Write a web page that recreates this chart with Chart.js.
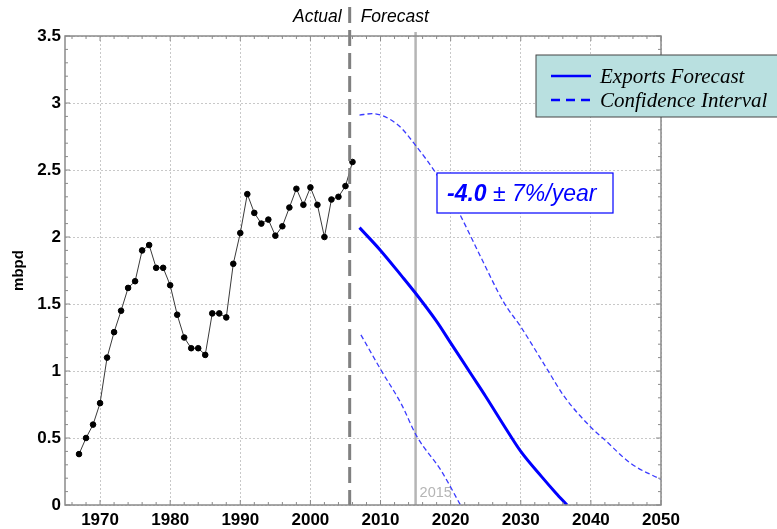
<!DOCTYPE html>
<html>
<head>
<meta charset="utf-8">
<script src="https://cdn.jsdelivr.net/npm/chart.js@4/dist/chart.umd.min.js"></script>
<style>
  html, body { margin: 0; padding: 0; background: #fff; }
  #wrap { width: 777px; height: 529px; position: relative; }
</style>
</head>
<body>
<div id="wrap"><canvas id="c"></canvas></div>
<script>
// actual exports (mbpd), 1967-2006
const actualYears = [1967, 1968, 1969, 1970, 1971, 1972, 1973, 1974, 1975, 1976, 1977, 1978, 1979, 1980,
  1981, 1982, 1983, 1984, 1985, 1986, 1987, 1988, 1989, 1990, 1991, 1992, 1993, 1994, 1995, 1996,
  1997, 1998, 1999, 2000, 2001, 2002, 2003, 2004, 2005, 2006];
const actualValues = [0.38, 0.50, 0.60, 0.76, 1.10, 1.29, 1.45, 1.62, 1.67, 1.90, 1.94, 1.77, 1.77, 1.64,
  1.42, 1.25, 1.17, 1.17, 1.12, 1.43, 1.43, 1.40, 1.80, 2.03, 2.32, 2.18, 2.10, 2.13, 2.01, 2.08,
  2.22, 2.36, 2.24, 2.37, 2.24, 2.00, 2.28, 2.30, 2.38, 2.56];

// forecast and confidence band
const forecastYears = [2007, 2010, 2013, 2015, 2018, 2020, 2023, 2025, 2028, 2030, 2033, 2035, 2036.6];
const forecastValues = [2.07, 1.90, 1.71, 1.58, 1.37, 1.21, 0.97, 0.81, 0.56, 0.40, 0.21, 0.09, 0];
const upperYears = [2007, 2008.8, 2012.4, 2015.2, 2018.1, 2021, 2024.3, 2027.6, 2030, 2033.8, 2036.2, 2040, 2041.9, 2045.7, 2050];
const upperValues = [2.91, 2.92, 2.84, 2.67, 2.46, 2.20, 1.85, 1.51, 1.33, 1.01, 0.81, 0.58, 0.49, 0.31, 0.19];
const lowerYears = [2007.2, 2010.2, 2012.9, 2015.2, 2018.6, 2021.4];
const lowerValues = [1.27, 0.995, 0.76, 0.51, 0.26, 0];

const xTicks = [1970, 1980, 1990, 2000, 2010, 2020, 2030, 2040, 2050];
const yTicks = [0, 0.5, 1, 1.5, 2, 2.5, 3, 3.5];
const splitYear = 2005.6;
const markerYear = 2015;
const legendLabels = ["Exports Forecast", "Confidence Interval"];

const pts = (xs, ys) => xs.map((x, i) => ({ x, y: ys[i] }));

const BLUE = "#0000ff";
const CI_BLUE = "#3b3bff";
const SANS = "'Liberation Sans', Arial, sans-serif";

// frame, minor ticks, reference lines, legend and annotation
const decor = {
  id: "decor",
  beforeDatasetsDraw(chart) {
    const { ctx, chartArea: a, scales: { x } } = chart;
    ctx.save();
    // 2015 marker
    const mx = x.getPixelForValue(markerYear);
    ctx.strokeStyle = "#b5b5b5";
    ctx.lineWidth = 2.5;
    ctx.beginPath();
    ctx.moveTo(mx, a.top - 4);
    ctx.lineTo(mx, a.bottom);
    ctx.stroke();
    ctx.fillStyle = "#b5b5b5";
    ctx.font = "14.5px " + SANS;
    ctx.textAlign = "left";
    ctx.textBaseline = "middle";
    ctx.fillText(String(markerYear), mx + 4, a.bottom - 12);
    ctx.restore();
  },
  afterDatasetsDraw(chart) {
    const { ctx, chartArea: a, scales: { x, y } } = chart;
    ctx.save();
    // frame
    ctx.strokeStyle = "#8a8a8a";
    ctx.lineWidth = 1.5;
    ctx.strokeRect(a.left, a.top, a.right - a.left, a.bottom - a.top);
    // minor ticks (inward) on all four sides
    ctx.lineWidth = 1;
    ctx.beginPath();
    for (let yr = 1966; yr <= 2050; yr += 2) {
      const px = x.getPixelForValue(yr);
      const len = yr % 10 === 0 ? 5 : 3;
      ctx.moveTo(px, a.bottom); ctx.lineTo(px, a.bottom - len);
      ctx.moveTo(px, a.top); ctx.lineTo(px, a.top + len);
    }
    for (let k = 0; k <= 35; k++) {
      const py = y.getPixelForValue(k / 10);
      const len = k % 5 === 0 ? 5 : 3;
      ctx.moveTo(a.left, py); ctx.lineTo(a.left + len, py);
      ctx.moveTo(a.right, py); ctx.lineTo(a.right - len, py);
    }
    ctx.stroke();

    // actual / forecast divider
    const sx = x.getPixelForValue(splitYear);
    ctx.strokeStyle = "#808080";
    ctx.lineWidth = 3;
    ctx.setLineDash([16, 7]);
    ctx.beginPath();
    ctx.moveTo(sx, 7);
    ctx.lineTo(sx, a.bottom);
    ctx.stroke();
    ctx.setLineDash([]);

    ctx.fillStyle = "#000";
    ctx.font = "italic 17.5px " + SANS;
    ctx.textBaseline = "middle";
    ctx.textAlign = "right";
    ctx.fillText("Actual", sx - 8, 17);
    ctx.textAlign = "left";
    ctx.fillText("Forecast", sx + 11, 17);

    // rate annotation
    const bx = 437, by = 173, bw = 176, bh = 40;
    ctx.fillStyle = "#fff";
    ctx.fillRect(bx, by, bw, bh);
    ctx.strokeStyle = BLUE;
    ctx.lineWidth = 1.2;
    ctx.strokeRect(bx, by, bw, bh);
    ctx.fillStyle = BLUE;
    ctx.textBaseline = "middle";
    ctx.textAlign = "left";
    ctx.font = "italic bold 23px " + SANS;
    const t1 = "-4.0";
    ctx.fillText(t1, bx + 10, by + bh / 2 + 2);
    const w1 = ctx.measureText(t1).width;
    ctx.font = "italic 23px " + SANS;
    ctx.fillText(" \u00b1 7%/year", bx + 10 + w1, by + bh / 2 + 2);

    // legend
    const lx = 536, ly = 55, lw = 250, lh = 62;
    ctx.fillStyle = "#b9e0e0";
    ctx.fillRect(lx, ly, lw, lh);
    ctx.strokeStyle = "#444";
    ctx.lineWidth = 1;
    ctx.strokeRect(lx, ly, lw, lh);
    const rows = [ly + 21, ly + 45];
    ctx.strokeStyle = BLUE;
    ctx.lineWidth = 2.5;
    ctx.beginPath();
    ctx.moveTo(lx + 15, rows[0]); ctx.lineTo(lx + 55, rows[0]);
    ctx.stroke();
    ctx.setLineDash([9, 6]);
    ctx.beginPath();
    ctx.moveTo(lx + 15, rows[1]); ctx.lineTo(lx + 58, rows[1]);
    ctx.stroke();
    ctx.setLineDash([]);
    ctx.fillStyle = "#000";
    ctx.font = "italic 21px 'Liberation Serif', 'Times New Roman', serif";
    ctx.textAlign = "left";
    ctx.fillText(legendLabels[0], lx + 64, rows[0] + 1);
    ctx.fillText(legendLabels[1], lx + 64, rows[1] + 1);
    ctx.restore();
  }
};

new Chart(document.getElementById("c"), {
  type: "scatter",
  data: {
    datasets: [
      {
        label: "Actual",
        data: pts(actualYears, actualValues),
        showLine: true,
        borderColor: "#3a3a3a",
        borderWidth: 1,
        pointBackgroundColor: "#000",
        pointBorderColor: "#000",
        pointRadius: 2.8,
        tension: 0
      },
      {
        label: legendLabels[0],
        data: pts(forecastYears, forecastValues),
        showLine: true,
        borderColor: BLUE,
        borderWidth: 3,
        pointRadius: 0,
        cubicInterpolationMode: "monotone"
      },
      {
        label: legendLabels[1],
        data: pts(upperYears, upperValues),
        showLine: true,
        borderColor: CI_BLUE,
        borderWidth: 1.3,
        borderDash: [5, 3],
        pointRadius: 0,
        cubicInterpolationMode: "monotone"
      },
      {
        label: legendLabels[1] + " (low)",
        data: pts(lowerYears, lowerValues),
        showLine: true,
        borderColor: CI_BLUE,
        borderWidth: 1.3,
        borderDash: [5, 3],
        pointRadius: 0,
        cubicInterpolationMode: "monotone"
      }
    ]
  },
  options: {
    responsive: true,
    maintainAspectRatio: false,
    animation: false,
    layout: { padding: { top: 36, right: 116, left: 0, bottom: 0 } },
    plugins: { legend: { display: false }, tooltip: { enabled: false } },
    scales: {
      x: {
        type: "linear",
        min: 1965,
        max: 2050,
        afterBuildTicks: (s) => { s.ticks = xTicks.map((v) => ({ value: v })); },
        afterFit: (s) => { s.height = 24; },
        grid: { color: "#c8c8c8", lineWidth: 1, drawTicks: false },
        border: { display: false, dash: [2, 2] },
        ticks: {
          color: "#000",
          padding: 5,
          maxRotation: 0,
          font: { family: SANS, size: 17, weight: "bold" },
          callback: (v) => String(v)
        }
      },
      y: {
        min: 0,
        max: 3.5,
        afterBuildTicks: (s) => { s.ticks = yTicks.map((v) => ({ value: v })); },
        afterFit: (s) => { s.width = 65; },
        grid: { color: "#c8c8c8", lineWidth: 1, drawTicks: false },
        border: { display: false, dash: [2, 2] },
        title: {
          display: true,
          text: "mbpd",
          color: "#000",
          padding: { top: 10, bottom: 0 },
          font: { family: SANS, size: 15, weight: "bold" }
        },
        ticks: {
          color: "#000",
          padding: 4,
          font: { family: SANS, size: 17, weight: "bold" },
          callback: (v) => String(v)
        }
      }
    }
  },
  plugins: [decor]
});
</script>
</body>
</html>
